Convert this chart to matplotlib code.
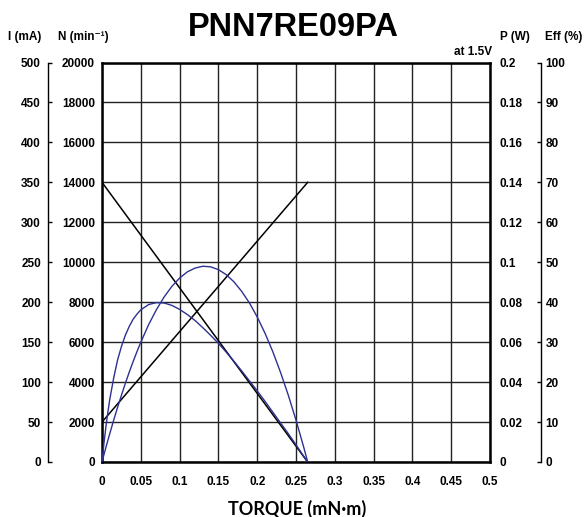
import numpy as np
import matplotlib
matplotlib.use("Agg")
import matplotlib.pyplot as plt

plt.rcParams['font.family'] = ['Liberation Sans', 'DejaVu Sans']
plt.rcParams['font.weight'] = 'bold'

# data (torque in mN·m)
torque_line = [0, 0.265]
speed_line = [14000, 0]          # min^-1
current_line = [50, 350]         # mA

torque = [0, 0.0025, 0.005, 0.0075, 0.01, 0.015, 0.02, 0.025, 0.03, 0.035, 0.04,
          0.045, 0.05, 0.06, 0.07, 0.08, 0.09, 0.10, 0.11, 0.12, 0.13, 0.14, 0.15,
          0.16, 0.17, 0.18, 0.19, 0.20, 0.21, 0.22, 0.23, 0.24, 0.25, 0.26, 0.265]
power = [0, 0.0037, 0.0073, 0.0108, 0.0142, 0.0209, 0.0273, 0.0334, 0.0393, 0.0449,
         0.0502, 0.0552, 0.0600, 0.0687, 0.0762, 0.0826, 0.0879, 0.0921, 0.0952,
         0.0971, 0.0980, 0.0977, 0.0963, 0.0938, 0.0902, 0.0854, 0.0796, 0.0726,
         0.0645, 0.0553, 0.0449, 0.0335, 0.0209, 0.0073, 0]
efficiency = [0, 4.7, 8.8, 12.4, 15.7, 21.0, 25.5, 28.9, 31.7, 33.9, 35.7, 37.0,
              38.1, 39.4, 39.9, 39.8, 39.2, 38.2, 36.9, 35.4, 33.6, 31.7, 29.7,
              27.5, 25.2, 22.8, 20.3, 17.8, 15.2, 12.5, 9.8, 7.1, 4.3, 1.4, 0]

x_ticks = [0, 0.05, 0.1, 0.15, 0.2, 0.25, 0.3, 0.35, 0.4, 0.45, 0.5]
x_labels = ['0', '0.05', '0.1', '0.15', '0.2', '0.25', '0.3', '0.35', '0.4', '0.45', '0.5']
n_ticks = list(range(0, 20001, 2000))
i_ticks = list(range(0, 501, 50))
p_ticks = [0, 0.02, 0.04, 0.06, 0.08, 0.1, 0.12, 0.14, 0.16, 0.18, 0.2]
p_labels = ['0', '0.02', '0.04', '0.06', '0.08', '0.1', '0.12', '0.14', '0.16', '0.18', '0.2']
eff_ticks = list(range(0, 101, 10))

blue = '#2e3192'
fs = 8.5

fig = plt.figure(figsize=(5.87, 5.17), dpi=100)
pos = [0.1738, 0.1064, 0.661, 0.7727]
ax = fig.add_axes(pos)
ax.set_xlim(0, 0.5)
ax.set_ylim(0, 20000)
ax.set_xticks(x_ticks)
ax.set_xticklabels(x_labels)
ax.set_yticks(n_ticks)
ax.grid(True, color='#222222', lw=1)
ax.tick_params(length=0, labelsize=fs)
ax.tick_params(axis='x', pad=10)
ax.tick_params(axis='y', pad=5)
for s in ax.spines.values():
    s.set_linewidth(1.8)

# current axis on far left (outward is in points: 54 px)
ax_i = ax.twinx()
ax_i.yaxis.set_ticks_position('left')
ax_i.spines['left'].set_position(('outward', 39))
for k in ['top', 'right', 'bottom']:
    ax_i.spines[k].set_visible(False)
ax_i.spines['left'].set_linewidth(1)
ax_i.set_ylim(0, 500)
ax_i.set_yticks(i_ticks)
ax_i.tick_params(axis='y', direction='in', length=3, width=1, labelsize=fs, pad=5)

# power axis
ax_p = ax.twinx()
for k in ax_p.spines:
    ax_p.spines[k].set_visible(False)
ax_p.set_ylim(0, 0.2)
ax_p.set_yticks(p_ticks)
ax_p.set_yticklabels(p_labels)
ax_p.tick_params(axis='y', length=0, labelsize=fs, pad=7)

# efficiency axis on far right (51 px)
ax_e = ax.twinx()
for k in ['top', 'left', 'bottom']:
    ax_e.spines[k].set_visible(False)
ax_e.spines['right'].set_position(('outward', 37))
ax_e.spines['right'].set_linewidth(1)
ax_e.set_ylim(0, 100)
ax_e.set_yticks(eff_ticks)
ax_e.tick_params(axis='y', direction='in', length=3, width=1, labelsize=fs, pad=3)

ax.plot(torque_line, speed_line, color='black', lw=1.1)
ax_i.plot(torque_line, current_line, color='black', lw=1.1)
ax_p.plot(torque, power, color=blue, lw=1.0)
ax_e.plot(torque, efficiency, color=blue, lw=1.0)

fig.text(0.5, 0.947, 'PNN7RE09PA', ha='center', va='center', fontsize=23.5, weight='bold')
fig.text(0.013, 0.928, 'I (mA)', ha='left', va='center', fontsize=fs)
fig.text(0.099, 0.928, 'N (min⁻¹)', ha='left', va='center', fontsize=fs)
fig.text(0.851, 0.928, 'P (W)', ha='left', va='center', fontsize=fs)
fig.text(0.928, 0.928, 'Eff (%)', ha='left', va='center', fontsize=fs)
fig.text(0.838, 0.899, 'at 1.5V', ha='right', va='center', fontsize=fs)
fig.text(0.506, 0.016, 'TORQUE (mN·m)', ha='center', va='center', fontsize=13,
         weight='bold', family=['Lato', 'DejaVu Sans'])

fig.savefig('out.png', dpi=100)
